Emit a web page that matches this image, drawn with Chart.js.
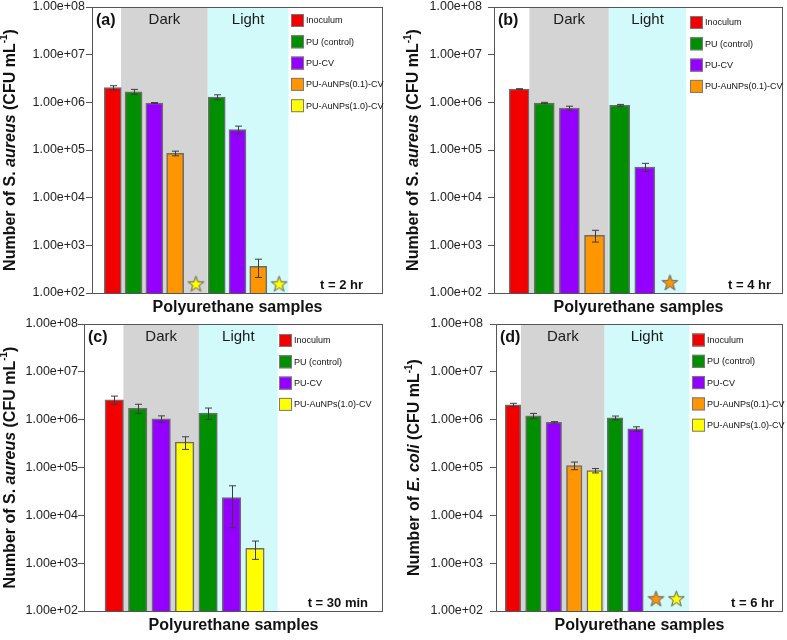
<!DOCTYPE html>
<html>
<head>
<meta charset="utf-8">
<script src="https://cdn.jsdelivr.net/npm/chart.js@4.4.1/dist/chart.umd.min.js"></script>
<style>
  html, body { margin: 0; padding: 0; background: #fff; }
  #wrap { position: relative; width: 787px; height: 640px; }
  #wrap canvas { position: absolute; }
</style>
</head>
<body>
<div id="wrap">
  <canvas id="chartA" width="393" height="320" style="left:0;top:0"></canvas>
  <canvas id="chartB" width="394" height="320" style="left:393px;top:0"></canvas>
  <canvas id="chartC" width="393" height="328" style="left:0;top:312px"></canvas>
  <canvas id="chartD" width="394" height="328" style="left:393px;top:312px"></canvas>
</div>
<script>
// series shared by all four panels
const seriesNames = ['Inoculum', 'PU (control)', 'PU-CV', 'PU-AuNPs(0.1)-CV', 'PU-AuNPs(1.0)-CV'];
const seriesColors = ['#f20000', '#008f00', '#9400ff', '#ff9600', '#ffff00'];
const regionNames = ['Dark', 'Light'];
const tickValues = [1e2, 1e3, 1e4, 1e5, 1e6, 1e7, 1e8];
const tickLabels = ['1.00e+02', '1.00e+03', '1.00e+04', '1.00e+05', '1.00e+06', '1.00e+07', '1.00e+08'];

// (a) S. aureus, t = 2 hr
const aSlots = [1, 2, 3, 4, 6, 7, 8];
const aSeries = [0, 1, 2, 3, 1, 2, 3];
const aValues = [2.03e6, 1.67e6, 9.7e5, 8.5e4, 1.29e6, 2.67e5, 362];
const aErrors = [0.2e6, 0.2e6, 0.2e5, 0.95e4, 0.15e6, 0.5e5, 150];
const aStarSlots = [5, 9];
const aStarSeries = [4, 4];
const aStarLevel = 155;
const aLegend = [0, 1, 2, 3, 4];

// (b) S. aureus, t = 4 hr
const bSlots = [1, 2, 3, 4, 5, 6];
const bSeries = [0, 1, 2, 3, 1, 2];
const bValues = [1.9e6, 9.7e5, 7.6e5, 1.62e3, 8.65e5, 4.4e4];
const bErrors = [0.03e6, 0.3e5, 0.7e5, 0.45e3, 0.4e5, 0.85e4];
const bStarSlots = [7];
const bStarSeries = [3];
const bStarLevel = 165;
const bLegend = [0, 1, 2, 3];

// (c) S. aureus, t = 30 min
const cSlots = [1, 2, 3, 4, 5, 6, 7];
const cSeries = [0, 1, 2, 4, 1, 2, 4];
const cValues = [2.61e6, 1.73e6, 1.04e6, 3.39e5, 1.38e6, 2.35e4, 2.05e3];
const cErrors = [0.5e6, 0.37e6, 0.16e6, 1.0e5, 0.37e6, 1.8e4, 0.85e3];
const cStarSlots = [];
const cStarSeries = [];
const cStarLevel = 160;
const cLegend = [0, 1, 2, 4];

// (d) E. coli, t = 6 hr
const dSlots = [1, 2, 3, 4, 5, 6, 7];
const dSeries = [0, 1, 2, 3, 4, 1, 2];
const dValues = [2.05e6, 1.2e6, 8.8e5, 1.1e5, 8.6e4, 1.09e6, 6.4e5];
const dErrors = [0.15e6, 0.15e6, 0.3e5, 0.2e5, 0.9e4, 0.1e6, 0.7e5];
const dStarSlots = [8, 9];
const dStarSeries = [3, 4];
const dStarLevel = 180;
const dLegend = [0, 1, 2, 3, 4];

const FONT = "'Liberation Sans', Arial, Helvetica, sans-serif";

// layout of each panel (page pixels) + which arrays it uses
const panels = [
  { id: 'chartA', x0: 0, y0: 0, w: 393, h: 320, area: [92, 7, 383, 293], xRange: [0, 14], bar: 17,
    dark: [1.4, 5.57], light: [5.57, 9.45], tickPad: 1, titleX: 10.5, legendDx: 92, legendDy: 13.5, timeDx: 20,
    tag: '(a)', time: 't = 2 hr', organism: ['S. ', 'aureus'],
    slots: aSlots, series: aSeries, values: aValues, errors: aErrors,
    starSlots: aStarSlots, starSeries: aStarSeries, starLevel: aStarLevel, legend: aLegend },
  { id: 'chartB', x0: 393, y0: 0, w: 394, h: 320, area: [494, 7, 786, 293], xRange: [0, 11.5], bar: 20,
    dark: [1.41, 4.57], light: [4.57, 7.65], tickPad: 6, titleX: 21, legendDx: 93, legendDy: 15.5, timeDx: 12,
    tag: '(b)', time: 't = 4 hr', organism: ['S. ', 'aureus'],
    slots: bSlots, series: bSeries, values: bValues, errors: bErrors,
    starSlots: bStarSlots, starSeries: bStarSeries, starLevel: bStarLevel, legend: bLegend },
  { id: 'chartC', x0: 0, y0: 312, w: 393, h: 328, area: [84, 324, 383, 611], xRange: [-0.29, 12.46], bar: 18.5,
    dark: [1.39, 4.61], light: [4.61, 7.97], tickPad: 0, titleX: 10.5, legendDx: 104, legendDy: 16.5, timeDx: 15,
    tag: '(c)', time: 't = 30 min', organism: ['S. ', 'aureus'],
    slots: cSlots, series: cSeries, values: cValues, errors: cErrors,
    starSlots: cStarSlots, starSeries: cStarSeries, starLevel: cStarLevel, legend: cLegend },
  { id: 'chartD', x0: 393, y0: 312, w: 394, h: 328, area: [496, 324, 784, 611], xRange: [0.17, 14.22], bar: 15.5,
    dark: [1.39, 5.49], light: [5.49, 9.63], tickPad: 7, titleX: 22, legendDx: 91, legendDy: 16, timeDx: 9,
    tag: '(d)', time: 't = 6 hr', organism: ['', 'E. coli'],
    slots: dSlots, series: dSeries, values: dValues, errors: dErrors,
    starSlots: dStarSlots, starSeries: dStarSeries, starLevel: dStarLevel, legend: dLegend }
];

// filled five-point star used for "no colonies" markers
function starImage(color) {
  const c = document.createElement('canvas');
  c.width = 19; c.height = 19;
  const g = c.getContext('2d');
  g.beginPath();
  for (let k = 0; k < 10; k++) {
    const r = k % 2 ? 3.3 : 8.3;
    const ang = -Math.PI / 2 + k * Math.PI / 5;
    const px = 9.5 + r * Math.cos(ang), py = 10 + r * Math.sin(ang);
    if (k === 0) g.moveTo(px, py); else g.lineTo(px, py);
  }
  g.closePath();
  g.fillStyle = color;
  g.fill();
  g.strokeStyle = '#5a5a5a';
  g.lineWidth = 1;
  g.stroke();
  return c;
}

function decor(p) {
  return {
    id: 'decor',
    beforeDatasetsDraw(chart) {
      const { ctx, chartArea: a, scales: { x } } = chart;
      ctx.save();
      const regions = [[p.dark, '#d4d4d4'], [p.light, '#d3fafb']];
      regions.forEach(([r, col], i) => {
        const x1 = x.getPixelForValue(r[0]), x2 = x.getPixelForValue(r[1]);
        ctx.fillStyle = col;
        ctx.fillRect(x1, a.top, x2 - x1, a.bottom - a.top);
        ctx.fillStyle = '#1a1a1a';
        ctx.font = '15px ' + FONT;
        ctx.textAlign = 'center';
        ctx.textBaseline = 'middle';
        ctx.fillText(regionNames[i], (x1 + x2) / 2, a.top + 13);
      });
      ctx.restore();
    },
    afterDatasetsDraw(chart) {
      const { ctx, scales: { x, y } } = chart;
      ctx.save();
      // error bars
      ctx.strokeStyle = '#3c3c3c';
      ctx.lineWidth = 1;
      p.slots.forEach((s, i) => {
        const cx = Math.round(x.getPixelForValue(s)) + 0.5;
        const hi = y.getPixelForValue(p.values[i] + p.errors[i]);
        const lo = y.getPixelForValue(Math.max(p.values[i] - p.errors[i], 101));
        ctx.beginPath();
        ctx.moveTo(cx, hi); ctx.lineTo(cx, lo);
        ctx.moveTo(cx - 3.5, hi); ctx.lineTo(cx + 3.5, hi);
        ctx.moveTo(cx - 3.5, lo); ctx.lineTo(cx + 3.5, lo);
        ctx.stroke();
      });
      ctx.restore();
    },
    afterDraw(chart) {
      const { ctx, chartArea: a } = chart;
      ctx.save();
      // frame
      ctx.strokeStyle = '#555';
      ctx.lineWidth = 1;
      ctx.strokeRect(Math.round(a.left) + 0.5, Math.round(a.top) + 0.5,
        Math.round(a.right - a.left) - 1, Math.round(a.bottom - a.top));

      // legend inside the frame
      const lx = a.right - p.legendDx;
      ctx.font = '9px ' + FONT;
      ctx.textBaseline = 'middle';
      ctx.textAlign = 'left';
      p.legend.forEach((s, i) => {
        const cy = a.top + p.legendDy + i * 21.3;
        ctx.fillStyle = seriesColors[s];
        ctx.fillRect(lx, cy - 6.5, 13, 13);
        ctx.strokeStyle = '#7a7a7a';
        ctx.strokeRect(lx + 0.5, cy - 6, 12, 12);
        ctx.fillStyle = '#111';
        ctx.fillText(seriesNames[s], lx + 15, cy + 0.5);
      });

      // panel tag and time
      ctx.fillStyle = '#111';
      ctx.font = 'bold 16px ' + FONT;
      ctx.fillText(p.tag, a.left + 4, a.top + 14);
      ctx.font = 'bold 13px ' + FONT;
      ctx.textAlign = 'right';
      ctx.fillText(p.time, a.right - p.timeDx, a.bottom - 8);

      // x title
      ctx.font = 'bold 16px ' + FONT;
      ctx.textAlign = 'center';
      ctx.fillText('Polyurethane samples', (a.left + a.right) / 2, a.bottom + 15);

      // y title with italic species and superscript
      const parts = [
        ['Number of ' + p.organism[0], 'bold 16px ', 0],
        [p.organism[1], 'italic bold 16px ', 0],
        [' (CFU mL', 'bold 16px ', 0],
        ['-1', 'bold 10px ', -6],
        [')', 'bold 16px ', 0]
      ];
      let total = 0;
      parts.forEach(pt => { ctx.font = pt[1] + FONT; total += ctx.measureText(pt[0]).width; });
      ctx.translate(p.titleX, (a.top + a.bottom) / 2);
      ctx.rotate(-Math.PI / 2);
      ctx.textAlign = 'left';
      let cx = -total / 2;
      parts.forEach(pt => {
        ctx.font = pt[1] + FONT;
        ctx.fillText(pt[0], cx, pt[2]);
        cx += ctx.measureText(pt[0]).width;
      });
      ctx.restore();
    }
  };
}

// keep the plot box exactly where the padding puts it
function noScalePadding(scale) {
  scale.paddingTop = 0;
  scale.paddingBottom = 0;
  scale.paddingLeft = 0;
  scale.paddingRight = 0;
}

function makeChart(p) {
  const L = p.area[0] - p.x0, T = p.area[1] - p.y0, R = p.area[2] - p.x0, B = p.area[3] - p.y0;

  const datasets = seriesNames.map((name, s) => ({
    type: 'bar',
    label: name,
    data: p.slots.map((slot, i) => ({ x: slot, y: p.values[i], s: p.series[i] })).filter(d => d.s === s),
    backgroundColor: seriesColors[s],
    borderColor: '#6c6c6c',
    borderWidth: 1.5,
    barThickness: p.bar,
    grouped: false
  })).filter(d => d.data.length > 0);

  if (p.starSlots.length) {
    // tiny radius so the point overflow does not widen the layout; the image sets the size
    datasets.push({
      type: 'scatter',
      label: 'none detected',
      data: p.starSlots.map(slot => ({ x: slot, y: p.starLevel })),
      pointStyle: p.starSeries.map(s => starImage(seriesColors[s])),
      pointRadius: 0.2,
      pointBorderWidth: 0,
      clip: false
    });
  }

  new Chart(document.getElementById(p.id), {
    type: 'bar',
    data: { datasets: datasets },
    options: {
      responsive: false,
      animation: false,
      events: [],
      layout: { padding: { left: 0, top: T, right: p.w - R, bottom: p.h - B } },
      plugins: { legend: { display: false }, tooltip: { enabled: false } },
      scales: {
        x: {
          type: 'linear', min: p.xRange[0], max: p.xRange[1],
          display: false, offset: false,
          afterBuildTicks: scale => { scale.ticks = []; },
          afterFit: noScalePadding
        },
        y: {
          type: 'logarithmic', min: 1e2, max: 1e8,
          afterBuildTicks: scale => { scale.ticks = tickValues.map(v => ({ value: v })); },
          afterFit: scale => { scale.width = L; noScalePadding(scale); },
          ticks: {
            autoSkip: false,
            padding: p.tickPad,
            color: '#222',
            font: { family: FONT, size: 12.5 },
            callback: (v, i) => tickLabels[i]
          },
          grid: { display: true, drawOnChartArea: false, tickLength: 6, color: '#555' },
          border: { display: true, color: '#555' }
        }
      }
    },
    plugins: [decor(p)]
  });
}

panels.forEach(makeChart);
</script>
</body>
</html>
